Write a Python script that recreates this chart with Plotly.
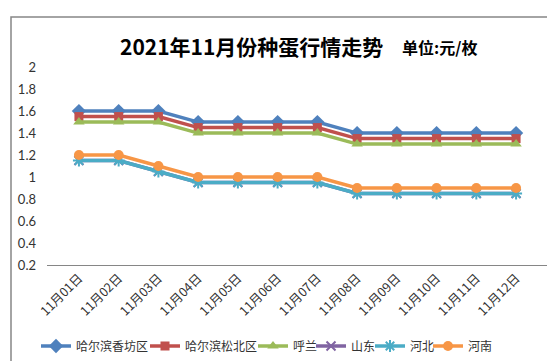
import plotly.graph_objects as go

dates = ["11月01日", "11月02日", "11月03日", "11月04日", "11月05日", "11月06日",
         "11月07日", "11月08日", "11月09日", "11月10日", "11月11日", "11月12日"]
xiangfang = [1.6, 1.6, 1.6, 1.5, 1.5, 1.5, 1.5, 1.4, 1.4, 1.4, 1.4, 1.4]
songbei = [1.55, 1.55, 1.55, 1.45, 1.45, 1.45, 1.45, 1.35, 1.35, 1.35, 1.35, 1.35]
hulan = [1.5, 1.5, 1.5, 1.4, 1.4, 1.4, 1.4, 1.3, 1.3, 1.3, 1.3, 1.3]
shandong = [1.15, 1.15, 1.05, 0.95, 0.95, 0.95, 0.95, 0.85, 0.85, 0.85, 0.85, 0.85]
hebei = [1.15, 1.15, 1.05, 0.95, 0.95, 0.95, 0.95, 0.85, 0.85, 0.85, 0.85, 0.85]
henan = [1.2, 1.2, 1.1, 1.0, 1.0, 1.0, 1.0, 0.9, 0.9, 0.9, 0.9, 0.9]
y_ticks = [0.2, 0.4, 0.6, 0.8, 1.0, 1.2, 1.4, 1.6, 1.8, 2.0]
y_labels = ["0.2", "0.4", "0.6", "0.8", "1", "1.2", "1.4", "1.6", "1.8", "2"]

series = [
    ("哈尔滨香坊区", xiangfang, "#4F81BD", "diamond", 11),
    ("哈尔滨松北区", songbei, "#C0504D", "square", 9),
    ("呼兰", hulan, "#9BBB59", "triangle-up", 10),
    ("山东", shandong, "#8064A2", "x-thin-open", 9),
    ("河北", hebei, "#4BACC6", "asterisk-open", 10),
    ("河南", henan, "#F79646", "circle", 10),
]
legend_text_x = [68, 177, 285, 343, 402, 460]

W, H = 555, 361
L, R, T, B = 39, 15, 59, 104
pw, ph = W - L - R, H - T - B

def px_x(x):
    return (x - L) / pw

def px_y(y):
    return (H - B - y) / ph

fig = go.Figure()
legend_layouts = {}
for i, (name, vals, color, sym, size) in enumerate(series):
    lname = "legend" if i == 0 else f"legend{i + 1}"
    fig.add_trace(go.Scatter(
        x=dates, y=vals, name=name, mode="lines+markers", legend=lname,
        line=dict(color=color, width=3.5),
        marker=dict(symbol=sym, size=size, color=color,
                    line=dict(color=color, width=2 if "open" in sym else 0)),
    ))
    legend_layouts[lname] = dict(
        orientation="h", x=px_x(legend_text_x[i] - 40), xanchor="left",
        y=px_y(338), yanchor="middle", borderwidth=0,
        font=dict(family="Noto Sans CJK SC", size=12, color="#333333"),
        itemwidth=30, bgcolor="rgba(0,0,0,0)")

fig.add_shape(type="rect", xref="paper", yref="paper",
              x0=px_x(3), x1=px_x(547), y0=px_y(360), y1=px_y(9),
              line=dict(color="#868686", width=1.5), fillcolor="rgba(0,0,0,0)")

fig.add_annotation(text="<b>2021年11月份种蛋行情走势</b>", xref="paper", yref="paper",
                   x=px_x(110), y=px_y(38), xanchor="left", yanchor="middle",
                   showarrow=False, font=dict(family="Noto Sans CJK SC", size=21, color="#000000"))
fig.add_annotation(text="<b>单位:元/枚</b>", xref="paper", yref="paper",
                   x=px_x(392), y=px_y(39), xanchor="left", yanchor="middle",
                   showarrow=False, font=dict(family="Noto Sans CJK SC", size=16, color="#000000"))

fig.update_layout(
    width=W, height=H,
    margin=dict(l=L, r=R, t=T, b=B, autoexpand=False),
    paper_bgcolor="white", plot_bgcolor="white",
    font=dict(family="Lato, Noto Sans CJK SC", size=12, color="#333333"),
    showlegend=True,
    xaxis=dict(type="category", tickangle=-45, showgrid=False, showline=True,
               linecolor="#868686", linewidth=1, ticks="", zeroline=False,
               tickfont=dict(family="Noto Sans CJK SC", size=12.5, color="#333333")),
    yaxis=dict(range=[0.2, 2.001], tickvals=y_ticks, ticktext=y_labels, showgrid=False,
               showline=False, zeroline=False, ticks="", ticklabelstandoff=10,
               tickfont=dict(family="Lato", size=13, color="#333333")),
    **legend_layouts,
)

fig.write_html("out.html")
